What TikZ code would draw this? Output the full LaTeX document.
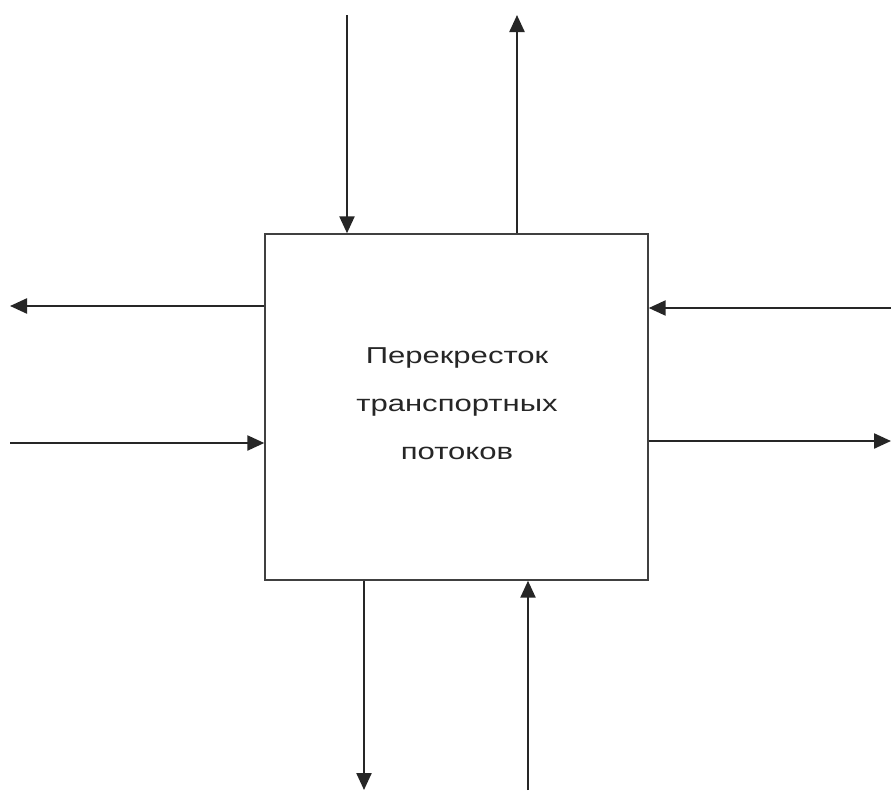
\documentclass[tikz,border=0pt]{standalone}
\usepackage{fontspec}
\setmainfont{Liberation Sans}
\newfontfamily\widefont[FakeStretch=1.35]{Liberation Sans}
\usetikzlibrary{arrows.meta}
\begin{document}
\begin{tikzpicture}[x=1pt,y=-1pt,
  flow/.style={line width=2.3pt,draw=black!85,-{Triangle[length=17pt,width=15pt]}},
  boxstyle/.style={draw=black!75,line width=1.4pt,minimum width=383pt,minimum height=346pt,inner sep=0pt},
  lbl/.style={font=\widefont\fontsize{23}{48}\selectfont,align=center,text=black!85}]
\useasboundingbox[fill=white] (0,0) rectangle (891,795);
\node[boxstyle] (box) at (456.5,407) {};
\node[lbl] (t) at (457,404) {Перекресток\\транспортных\\потоков};
% top
\coordinate (tin) at (347,15);
\coordinate (tout) at (517,15);
\draw[flow] (tin) -- (tin |- box.north);
\draw[flow] (tout |- box.north) -- (tout);
% left
\coordinate (lout) at (10,306);
\coordinate (lin) at (10,443);
\draw[flow] (lout -| box.west) -- (lout);
\draw[flow] (lin) -- (lin -| box.west);
% right
\coordinate (rin) at (891,308);
\coordinate (rout) at (891,441);
\draw[flow] (rin) -- (rin -| box.east);
\draw[flow] (rout -| box.east) -- (rout);
% bottom
\coordinate (bout) at (364,790);
\coordinate (bin) at (528,790);
\draw[flow] (bout |- box.south) -- (bout);
\draw[flow] (bin) -- (bin |- box.south);
\end{tikzpicture}
\end{document}
